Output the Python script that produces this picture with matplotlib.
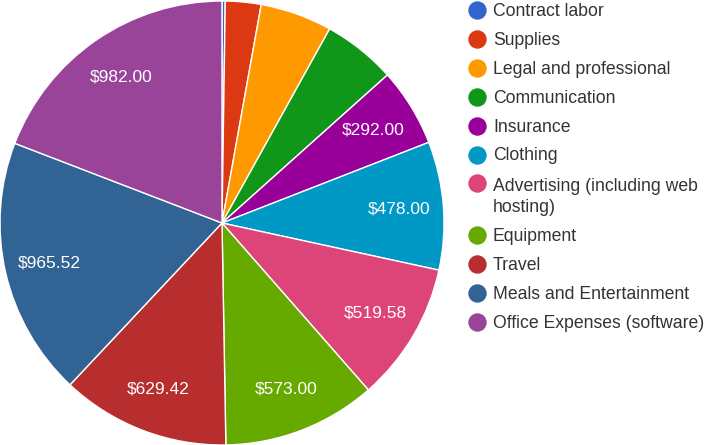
import textwrap
import matplotlib.pyplot as plt

categories = ["Contract labor", "Supplies", "Legal and professional", "Communication",
              "Insurance", "Clothing", "Advertising (including web hosting)", "Equipment",
              "Travel", "Meals and Entertainment", "Office Expenses (software)"]
values = [12.0, 133.0, 268.0, 273.0, 292.00, 478.00, 519.58, 573.00, 629.42, 965.52, 982.00]
colors = ["#3366cc", "#dc3912", "#ff9900", "#109618", "#990099", "#0099c6",
          "#dd4477", "#66aa00", "#b82e2e", "#316395", "#994499"]

plt.rcParams['font.family'] = ['Liberation Sans', 'DejaVu Sans']

total = sum(values)


def slice_text(pct):
    # only slices big enough get a label, like the original
    if pct < 5.5:
        return ''
    return '${:.2f}'.format(pct * total / 100.0)


fig = plt.figure(figsize=(7.2, 4.45), dpi=100)

# pie: center at (222, 223) px, radius 221 px
r = 222
ax = fig.add_axes([(222 - r) / 720, (222 - r) / 445, 2 * r / 720, 2 * r / 445])
wedges, texts, autotexts = ax.pie(values, colors=colors, startangle=90, counterclock=False,
                                  autopct=slice_text, pctdistance=0.8,
                                  wedgeprops=dict(edgecolor='white', linewidth=1),
                                  textprops=dict(color='white', fontsize=12.5))
ax.set_xlim(-1, 1)
ax.set_ylim(-1, 1)
ax.set_aspect('equal')
ax.axis('off')

# legend drawn in pixel coordinates
lax = fig.add_axes([0, 0, 1, 1])
lax.set_xlim(0, 720)
lax.set_ylim(445, 0)
lax.axis('off')
lax.patch.set_alpha(0)

y = 10
for name, col in zip(categories, colors):
    label = textwrap.fill(name, width=26)
    n = label.count('\n')
    lax.scatter([477], [y], s=150, color=col, zorder=3)
    # baseline of a multi-line text is the last line
    lax.text(493, y + 6 + 23 * n, label, fontsize=12.7, color='#333333', va='baseline',
             ha='left', linespacing=1.32)
    y += 28.9 + 23 * n

fig.savefig('out.png', dpi=100)
